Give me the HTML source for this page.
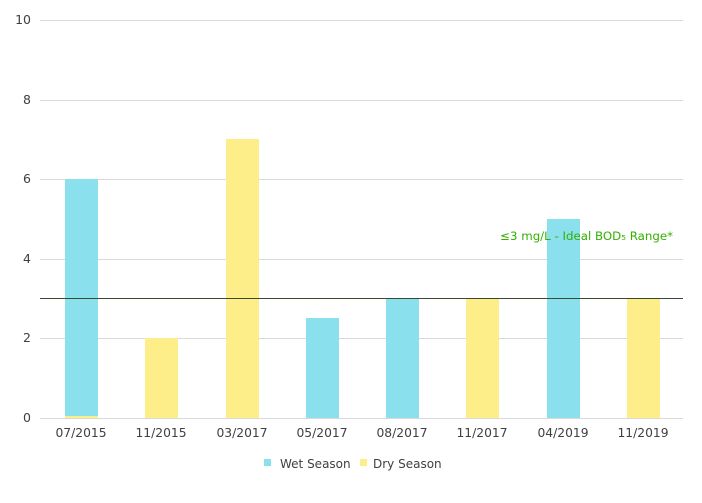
<!DOCTYPE html><html><head><style>body{margin:0;background:#fff}</style></head><body>
<svg width="702" height="498" xmlns="http://www.w3.org/2000/svg" font-family="DejaVu Sans, sans-serif">
<g stroke="#d9d9d9" stroke-width="1">
<line x1="40" x2="683" y1="20.5" y2="20.5"/><line x1="40" x2="683" y1="100.5" y2="100.5"/><line x1="40" x2="683" y1="179.5" y2="179.5"/><line x1="40" x2="683" y1="259.5" y2="259.5"/><line x1="40" x2="683" y1="338.5" y2="338.5"/><line x1="40" x2="683" y1="418.5" y2="418.5"/>
</g>
<g font-size="12.5" fill="#404040" text-anchor="end">
<text x="31" y="24">10</text><text x="31" y="104">8</text><text x="31" y="183">6</text><text x="31" y="263">4</text><text x="31" y="342">2</text><text x="31" y="422">0</text>
</g>
<g fill="#8ae0ec">
<rect x="65" y="179" width="33" height="239"/>
<rect x="306" y="318" width="33" height="100"/>
<rect x="386" y="299" width="33" height="119"/>
<rect x="547" y="219" width="33" height="199"/>
</g>
<g fill="#fdee8a">
<rect x="65" y="416" width="33" height="2"/>
<rect x="145" y="338" width="33" height="80"/>
<rect x="226" y="139" width="33" height="279"/>
<rect x="466" y="299" width="33" height="119"/>
<rect x="627" y="299" width="33" height="119"/>
</g>
<line x1="40" x2="683" y1="298.5" y2="298.5" stroke="#3a4a32" stroke-width="1"/>
<text x="673" y="240" font-size="11.8" fill="#33b000" text-anchor="end">≤3 mg/L - Ideal BOD₅ Range*</text>
<g font-size="12.3" fill="#404040" text-anchor="middle">
<text x="81" y="437">07/2015</text><text x="161" y="437">11/2015</text><text x="242" y="437">03/2017</text><text x="322" y="437">05/2017</text><text x="402" y="437">08/2017</text><text x="482" y="437">11/2017</text><text x="563" y="437">04/2019</text><text x="643" y="437">11/2019</text>
</g>
<rect x="264" y="459" width="7" height="7" fill="#8ae0ec"/>
<text x="280" y="468" font-size="12" fill="#404040">Wet Season</text>
<rect x="360" y="459" width="7" height="7" fill="#fdee8a"/>
<text x="373" y="468" font-size="12" fill="#404040">Dry Season</text>
</svg>
</body></html>
